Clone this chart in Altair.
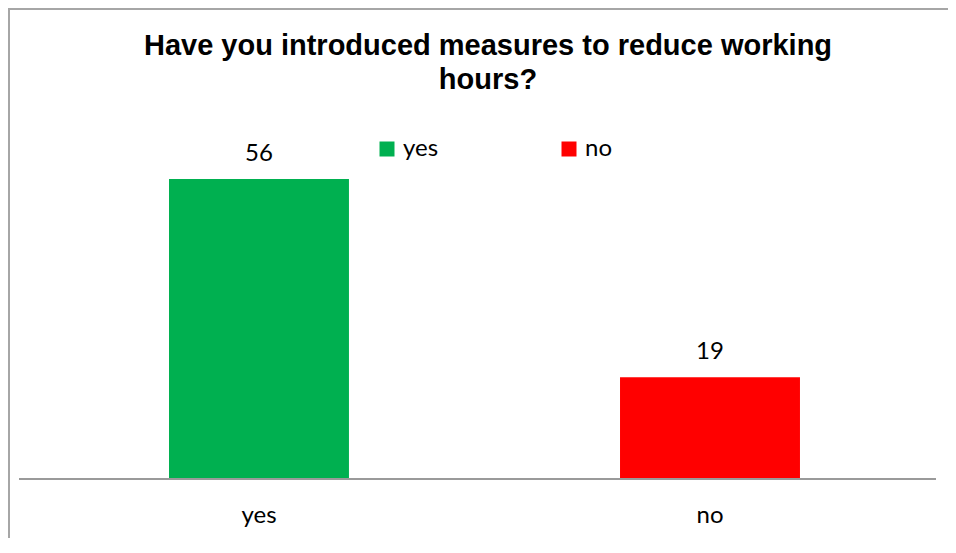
import altair as alt
import pandas as pd

categories = ["yes", "no"]
values = [56, 19]
colors = ["#00B050", "#FF0000"]
title_lines = ["Have you introduced measures to reduce working", "hours?"]

df = pd.DataFrame({"answer": categories, "count": values})

W, H = 940, 530
ZERO_PX = 471
PX_PER_UNIT = 300 / 56
Y_MAX = ZERO_PX / PX_PER_UNIT
Y_MIN = -(H - ZERO_PX) / PX_PER_UNIT

yscale = alt.Scale(domain=[Y_MIN, Y_MAX], nice=False, zero=False)

x = alt.X(
    "answer:N",
    scale=alt.Scale(domain=categories, paddingInner=0.601, paddingOuter=0.3426, align=0.521),
    axis=None,
)
y = alt.Y("count:Q", scale=yscale, axis=None)
y0 = alt.Y("base:Q", scale=yscale, axis=None)

base = alt.Chart(df).transform_calculate(base="0")

bars = base.mark_bar().encode(
    x=x,
    y=y,
    color=alt.Color(
        "answer:N",
        scale=alt.Scale(domain=categories, range=colors),
        legend=alt.Legend(
            orient="none",
            legendX=367,
            legendY=129,
            direction="horizontal",
            title=None,
            symbolType="square",
            symbolSize=225,
            symbolStrokeWidth=0,
            symbolOpacity=1,
            labelFont="Lato",
            labelFontSize=24,
            labelColor="black",
            labelOffset=4,
            columnPadding=118,
            padding=0,
        ),
    ),
)

value_labels = base.mark_text(
    font="Lato", fontSize=24, baseline="alphabetic", dy=-18, color="black"
).encode(x=x, y=y, text="count:Q")

cat_labels = base.mark_text(
    font="Lato", fontSize=24, baseline="alphabetic", dy=44, color="black"
).encode(x=x, y=y0, text="answer:N")

axis_line = base.mark_rule(color="#9a9a9a", strokeWidth=2).encode(
    x=alt.value(11), x2=alt.value(928), y=y0
)

frame_left = base.mark_rule(color="#a6a6a6", strokeWidth=2).encode(
    x=alt.value(1), y=alt.value(0), y2=alt.value(H)
)
frame_top = base.mark_rule(color="#a6a6a6", strokeWidth=2).encode(
    x=alt.value(0), x2=alt.value(W), y=alt.value(1)
)

chart = alt.layer(frame_left, frame_top, bars, axis_line, value_labels, cat_labels).properties(
    width=W,
    height=H,
    padding=0,
    autosize=alt.AutoSizeParams(type="none"),
    title=alt.TitleParams(
        text=title_lines,
        font="Liberation Sans",
        fontSize=29,
        fontWeight="bold",
        color="black",
        anchor="middle",
        frame="group",
        offset=-45,
        baseline="alphabetic",
        lineHeight=34,
        dx=10,
        dy=66,
    ),
).configure_view(stroke="transparent")

chart.save("out.html", embed_options={"renderer": "svg", "actions": False})
